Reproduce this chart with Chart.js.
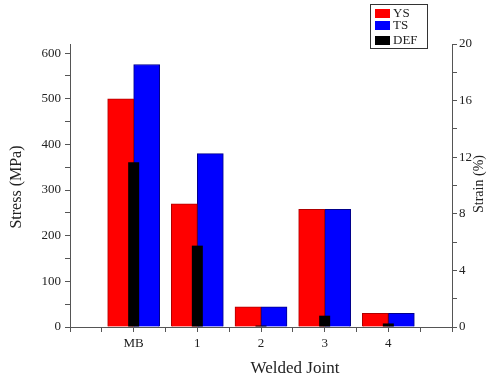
<!DOCTYPE html>
<html>
<head>
<meta charset="utf-8">
<script src="https://cdn.jsdelivr.net/npm/chart.js@4/dist/chart.umd.min.js"></script>
<style>
  html, body { margin: 0; padding: 0; background: #fff; }
  #wrap { position: relative; width: 499px; height: 378px; }
</style>
</head>
<body>
<div id="wrap"><canvas id="myChart" width="499" height="378"></canvas></div>
<script>
// data
var categories = ['MB', '1', '2', '3', '4'];
var ysValues = [500, 270, 44, 258, 30];     // MPa
var tsValues = [575, 380, 44, 258, 30];     // MPa
var defValues = [11.65, 5.75, 0.1, 0.8, 0.25]; // %
var stressTicks = [0, 100, 200, 300, 400, 500, 600];
var strainTicks = [0, 4, 8, 12, 16, 20];

Chart.defaults.font.family = 'Liberation Serif';
Chart.defaults.color = '#222';

function toPoints(vals){
    return vals.map(function(v, i){ return {x: i, y: v}; });
}

var axisColor = '#555';

// titles + legend box drawn on top
var extras = {
    id: 'extras',
    afterDraw: function(chart){
        var c = chart.ctx;
        c.save();
        c.fillStyle = '#222';
        c.textAlign = 'center';
        c.textBaseline = 'middle';

        c.font = '16px "Liberation Serif"';
        c.save();
        c.translate(17, 187);
        c.rotate(-Math.PI / 2);
        c.fillText('Stress (MPa)', 0, 0);
        c.restore();

        c.font = '14px "Liberation Serif"';
        c.save();
        c.translate(479, 184);
        c.rotate(-Math.PI / 2);
        c.fillText('Strain (%)', 0, 0);
        c.restore();

        c.font = '17px "Liberation Serif"';
        c.fillText('Welded Joint', 295, 369);

        // legend
        c.strokeStyle = '#333';
        c.lineWidth = 1;
        c.fillStyle = '#fff';
        c.fillRect(370.5, 4.5, 57, 44);
        c.strokeRect(370.5, 4.5, 57, 44);
        var items = chart.data.datasets.slice().sort(function(a, b){ return a.legendPos - b.legendPos; });
        var ys = [14, 26, 41];
        c.textAlign = 'left';
        c.font = '13px "Liberation Serif"';
        items.forEach(function(ds, i){
            c.fillStyle = ds.backgroundColor;
            c.fillRect(375, ys[i] - 5, 15, 9);
            c.fillStyle = '#222';
            c.fillText(ds.label, 393, ys[i]);
        });
        c.restore();
    }
};

var ctx = document.getElementById('myChart').getContext('2d');
var myChart = new Chart(ctx, {
    type: 'bar',
    data: {
        datasets: [
            {
                label: 'DEF',
                legendPos: 2,
                data: toPoints(defValues),
                yAxisID: 'y2',
                grouped: false,
                maxBarThickness: 11,
                backgroundColor: '#000000',
                borderColor: '#000000',
                borderWidth: 0,
                order: 0
            },
            {
                label: 'YS',
                legendPos: 0,
                data: toPoints(ysValues),
                yAxisID: 'y',
                barThickness: 26,
                backgroundColor: '#ff0000',
                borderColor: '#b00000',
                borderWidth: 1,
                order: 1
            },
            {
                label: 'TS',
                legendPos: 1,
                data: toPoints(tsValues),
                yAxisID: 'y',
                barThickness: 26,
                backgroundColor: '#0000ff',
                borderColor: '#00008b',
                borderWidth: 1,
                order: 1
            }
        ]
    },
    options: {
        responsive: false,
        animation: false,
        layout: { padding: { top: 44, left: 0, right: 0, bottom: 0 } },
        plugins: {
            legend: { display: false },
            tooltip: { enabled: false }
        },
        scales: {
            x: {
                type: 'linear',
                offset: false,
                min: -1,
                max: 5,
                afterBuildTicks: function(scale){
                    var t = [];
                    for (var v = -1; v <= 5; v += 0.5) t.push({value: v});
                    scale.ticks = t;
                },
                afterFit: function(scale){ scale.height = 51; },
                ticks: {
                    padding: 4,
                    autoSkip: false,
                    maxRotation: 0,
                    font: { size: 13 },
                    callback: function(v){
                        return (Number.isInteger(v) && v >= 0 && v < categories.length) ? categories[v] : '';
                    }
                },
                grid: { offset: false, drawOnChartArea: false, drawTicks: true, tickLength: 5, color: axisColor },
                border: { display: true, color: axisColor }
            },
            y: {
                position: 'left',
                min: 0,
                max: 620,
                afterBuildTicks: function(scale){
                    var t = [];
                    for (var v = 0; v <= 600; v += 50) t.push({value: v});
                    scale.ticks = t;
                },
                afterFit: function(scale){ scale.width = 70; },
                ticks: {
                    padding: 4,
                    font: { size: 13 },
                    callback: function(v){ return stressTicks.indexOf(v) >= 0 ? v : ''; }
                },
                grid: { drawOnChartArea: false, drawTicks: true, tickLength: 5, color: axisColor },
                border: { display: true, color: axisColor }
            },
            y2: {
                position: 'right',
                min: 0,
                max: 20,
                afterBuildTicks: function(scale){
                    var t = [];
                    for (var v = 0; v <= 20; v += 2) t.push({value: v});
                    scale.ticks = t;
                },
                afterFit: function(scale){ scale.width = 47; },
                ticks: {
                    padding: 2,
                    font: { size: 13 },
                    callback: function(v){ return strainTicks.indexOf(v) >= 0 ? v : ''; }
                },
                grid: { drawOnChartArea: false, drawTicks: true, tickLength: 5, color: axisColor },
                border: { display: true, color: axisColor }
            }
        }
    },
    plugins: [extras]
});
</script>
</body>
</html>
